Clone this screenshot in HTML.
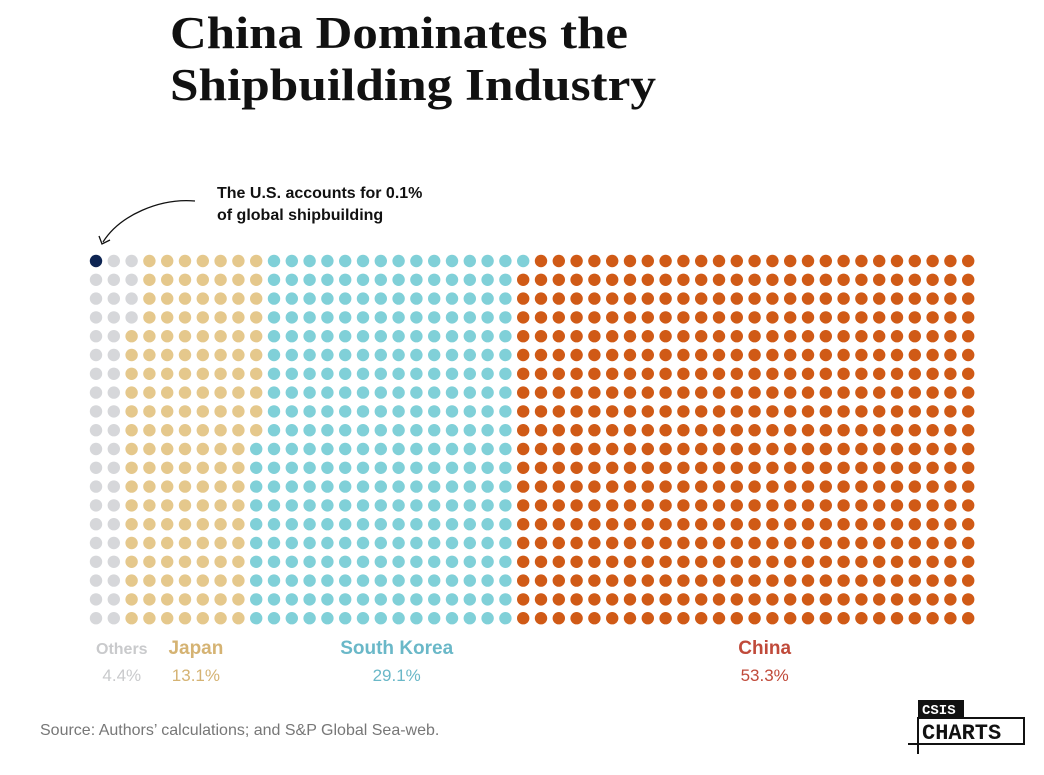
<!DOCTYPE html>
<html><head><meta charset="utf-8"><style>
body{margin:0;width:1044px;height:770px;background:#fff;overflow:hidden;font-family:"Liberation Sans",sans-serif}
</style></head><body>
<svg width="1044" height="770">
<text x="170" y="48" font-family="Liberation Serif" font-weight="bold" font-size="45" fill="#111" textLength="458" lengthAdjust="spacingAndGlyphs">China Dominates the</text>
<text x="170" y="100" font-family="Liberation Serif" font-weight="bold" font-size="45" fill="#111" textLength="486" lengthAdjust="spacingAndGlyphs">Shipbuilding Industry</text>
<text x="217" y="198" font-weight="bold" font-size="16" fill="#111">The U.S. accounts for 0.1%</text>
<text x="217" y="220" font-weight="bold" font-size="16" fill="#111">of global shipbuilding</text>
<path d="M195,201 C160,198 120,215 103,242" fill="none" stroke="#111" stroke-width="1.3"/>
<path d="M99,236 L102,244 L110,240" fill="none" stroke="#111" stroke-width="1.3"/>
<g id="dots"></g>
<g id="labels"></g>
<text x="40" y="735" font-size="16" fill="#777">Source: Authors’ calculations; and S&amp;P Global Sea-web.</text>
<g>
<rect x="918" y="718" width="106" height="26" fill="#fff" stroke="#111" stroke-width="2"/>
<rect x="918" y="700" width="46" height="18" fill="#111"/>
<text x="922" y="714" font-family="Liberation Mono" font-weight="bold" font-size="14" fill="#fff">CSIS</text>
<text x="922" y="739" font-family="Liberation Mono" font-weight="bold" font-size="22" fill="#111">CHARTS</text>
<line x1="918" y1="744" x2="918" y2="754" stroke="#111" stroke-width="2"/>
<line x1="908" y1="744" x2="928" y2="744" stroke="#111" stroke-width="2"/>
</g>
</svg>
<script>
const categories=["United States","Others","Japan","South Korea","China"];
const dotCounts=[1,43,146,291,519];
const labelNames=["Others","Japan","South Korea","China"];
const labelPercents=["4.4%","13.1%","29.1%","53.3%"];
const colors=["#0d2452","#d6d7da","#e5c88c","#80d0d8","#d05a16"];
const labelColors=["#c9cacc","#d5b373","#6ab8c8","#c04a3a"];
const NS="http://www.w3.org/2000/svg";
const rows=20, x0=96, dx=17.8, y0=261, dy=18.8;
const labelOffsets=[8,2,7,19];
const g=document.getElementById('dots');
let idx=0;
const startIdx=[];
dotCounts.forEach((n,c)=>{startIdx.push(idx);for(let k=0;k<n;k++){const col=Math.floor(idx/rows),row=idx%rows;
const ci=document.createElementNS(NS,'circle');
ci.setAttribute('cx',x0+col*dx);ci.setAttribute('cy',y0+row*dy);ci.setAttribute('r',6.2);ci.setAttribute('fill',colors[c]);


g.appendChild(ci);idx++;}});
const lg=document.getElementById('labels');
labelNames.forEach((nm,i)=>{const c=i+1;const s=startIdx[c],e=s+dotCounts[c]-1;
let cx=x0+((Math.floor(s/rows)+Math.floor(e/rows))/2)*dx+labelOffsets[i];
if(c===1)cx=x0+1*dx+8;
const t=document.createElementNS(NS,'text');t.setAttribute('x',cx);t.setAttribute('y',654);t.setAttribute('text-anchor','middle');
t.setAttribute('font-weight','bold');t.setAttribute('font-size',c===1?16:19);t.setAttribute('fill',labelColors[i]);t.textContent=nm;


lg.appendChild(t);
const p=document.createElementNS(NS,'text');p.setAttribute('x',cx);p.setAttribute('y',681);p.setAttribute('text-anchor','middle');
p.setAttribute('font-size',17);p.setAttribute('fill',labelColors[i]);p.textContent=labelPercents[i];


lg.appendChild(p);});
</script>
</body></html>
